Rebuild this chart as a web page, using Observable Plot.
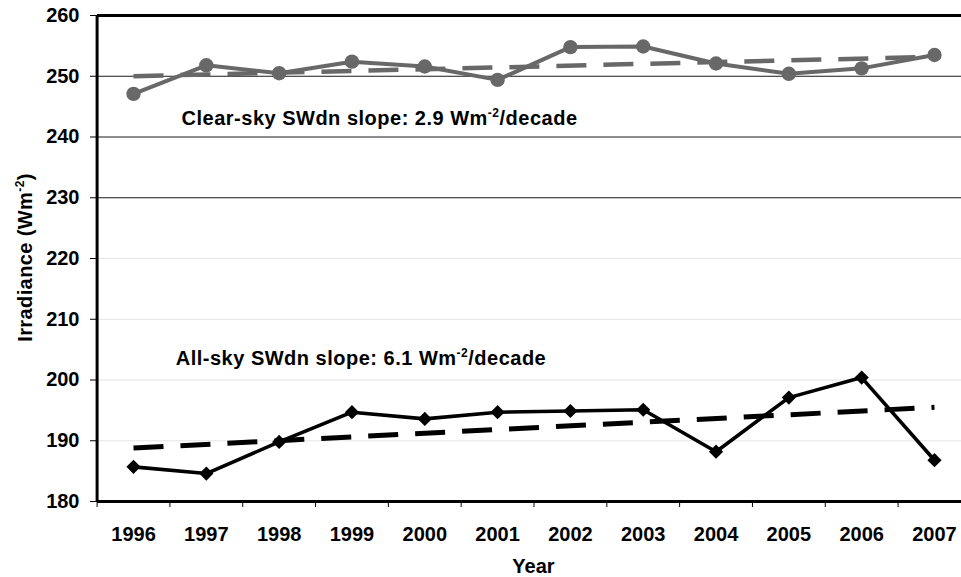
<!DOCTYPE html>
<html>
<head>
<meta charset="utf-8">
<script src="https://cdn.jsdelivr.net/npm/d3@7"></script>
<script src="https://cdn.jsdelivr.net/npm/@observablehq/plot@0.6"></script>
<style>
  body { margin: 0; background: #fff; }
  #chart svg { display: block; }
</style>
</head>
<body>
<div id="chart"></div>
<script>
// ---- data ----
const years = [1996, 1997, 1998, 1999, 2000, 2001, 2002, 2003, 2004, 2005, 2006, 2007];
const clearSky = [247.1, 251.8, 250.5, 252.4, 251.6, 249.4, 254.8, 254.9, 252.1, 250.4, 251.3, 253.5];
const allSky   = [185.7, 184.6, 189.8, 194.7, 193.6, 194.7, 194.9, 195.1, 188.2, 197.1, 200.4, 186.8];
const trendYears = [1996, 2007];
const clearTrend = [250.0, 253.2];
const allTrend   = [188.8, 195.5];
const yTicks = [180, 190, 200, 210, 220, 230, 240, 250, 260];
const darkGrid = [230, 240, 250];
const lightGrid = [190, 200, 210, 220];
const yearBounds = [1995.5, 1996.5, 1997.5, 1998.5, 1999.5, 2000.5, 2001.5, 2002.5, 2003.5, 2004.5, 2005.5, 2006.5];
const clearLabel = "Clear-sky SWdn slope: 2.9 Wm⁻²/decade";
const allLabel = "All-sky SWdn slope: 6.1 Wm⁻²/decade";
const yLabel = "Irradiance (Wm⁻²)";
const xLabel = "Year";

// ---- tables ----
const clearData = years.map((year, i) => ({year, value: clearSky[i]}));
const allData = years.map((year, i) => ({year, value: allSky[i]}));
const clearTrendData = trendYears.map((year, i) => ({year, value: clearTrend[i]}));
const allTrendData = trendYears.map((year, i) => ({year, value: allTrend[i]}));

const GRAY = "#686868";
const FONT = "'Liberation Sans', Arial, Helvetica, sans-serif";

const plot = Plot.plot({
  width: 961,
  height: 577,
  marginTop: 15,
  marginBottom: 76,
  marginLeft: 97,
  marginRight: 0,
  x: {domain: [1995.5, 2007.5], range: [96.6, 970.4]},
  y: {domain: [180, 260]},
  style: {fontFamily: FONT, fontWeight: "bold", fontSize: "20px", color: "#000", background: "#fff", overflow: "visible"},
  marks: [
    Plot.ruleY(lightGrid, {stroke: "#e4e4e4", strokeWidth: 1}),
    Plot.ruleY(darkGrid, {stroke: "#1a1a1a", strokeWidth: 1}),
    Plot.ruleY([260], {stroke: "#000", strokeWidth: 3}),
    Plot.axisY({ticks: yTicks, tickSize: 7, tickPadding: 11, label: null, fontSize: 20, fontWeight: "bold", stroke: "#000"}),
    Plot.axisX({ticks: years, tickFormat: "d", tickSize: 0, tickPadding: 25, label: null, fontSize: 20, fontWeight: "bold"}),
    Plot.axisX({ticks: yearBounds, tickFormat: () => "", tickSize: 6, label: null, stroke: "#000"}),
    Plot.ruleX([1995.5], {stroke: "#000", strokeWidth: 3}),
    Plot.ruleY([180], {stroke: "#000", strokeWidth: 3}),
    // trends
    Plot.line(clearTrendData, {x: "year", y: "value", stroke: GRAY, strokeWidth: 4.5, strokeDasharray: "30,17", strokeLinecap: "butt"}),
    Plot.line(allTrendData, {x: "year", y: "value", stroke: "#000", strokeWidth: 5, strokeDasharray: "30,17", strokeLinecap: "butt"}),
    // series
    Plot.line(clearData, {x: "year", y: "value", stroke: GRAY, strokeWidth: 4}),
    Plot.dot(clearData, {x: "year", y: "value", symbol: "circle", r: 7.2, fill: GRAY, stroke: "none"}),
    Plot.line(allData, {x: "year", y: "value", stroke: "#000", strokeWidth: 3.6}),
    Plot.dot(allData, {x: "year", y: "value", symbol: "diamond2", r: 6.4, fill: "#000", stroke: "none"}),
    // annotations
    Plot.text([clearLabel], {x: 1996.66, y: 241.9, text: d => d, textAnchor: "start", lineAnchor: "bottom", fontSize: 20, fontWeight: "bold", fill: "#000"}),
    Plot.text([allLabel], {x: 1996.58, y: 202.55, text: d => d, textAnchor: "start", lineAnchor: "bottom", fontSize: 20, fontWeight: "bold", fill: "#000"})
  ]
});

const svg = d3.select(plot.tagName.toLowerCase() === "svg" ? plot : plot.querySelector("svg"));

// axis titles
svg.append("text")
  .attr("transform", "translate(32,257.5) rotate(-90)")
  .attr("text-anchor", "middle")
  .style("font-family", FONT).style("font-weight", "bold").style("font-size", "20px")
  .style("letter-spacing", "0.4px")
  .attr("fill", "#000")
  .text(yLabel);
svg.append("text")
  .attr("x", 533.5).attr("y", 573)
  .attr("text-anchor", "middle")
  .style("font-family", FONT).style("font-weight", "bold").style("font-size", "20px")
  .attr("fill", "#000")
  .text(xLabel);

// render "⁻²" as a real superscript
svg.selectAll("text").each(function () {
  const t = this.textContent;
  if (!t.includes("⁻²")) return;
  const [before, after] = t.split("⁻²");
  const el = d3.select(this);
  if (!this.closest("[aria-label='y-axis tick label']")) el.style("letter-spacing", el.style("letter-spacing") || null);
  el.text(null);
  el.append("tspan").text(before);
  el.append("tspan").attr("dy", -8).style("font-size", "12px").text("-2");
  el.append("tspan").attr("dy", 8).text(after);
});
// widen the slope annotations slightly, as in the reference
svg.selectAll("text").filter(function () { return /slope/.test(this.textContent); })
  .style("letter-spacing", "0.5px");

document.getElementById("chart").appendChild(plot);
</script>
</body>
</html>
